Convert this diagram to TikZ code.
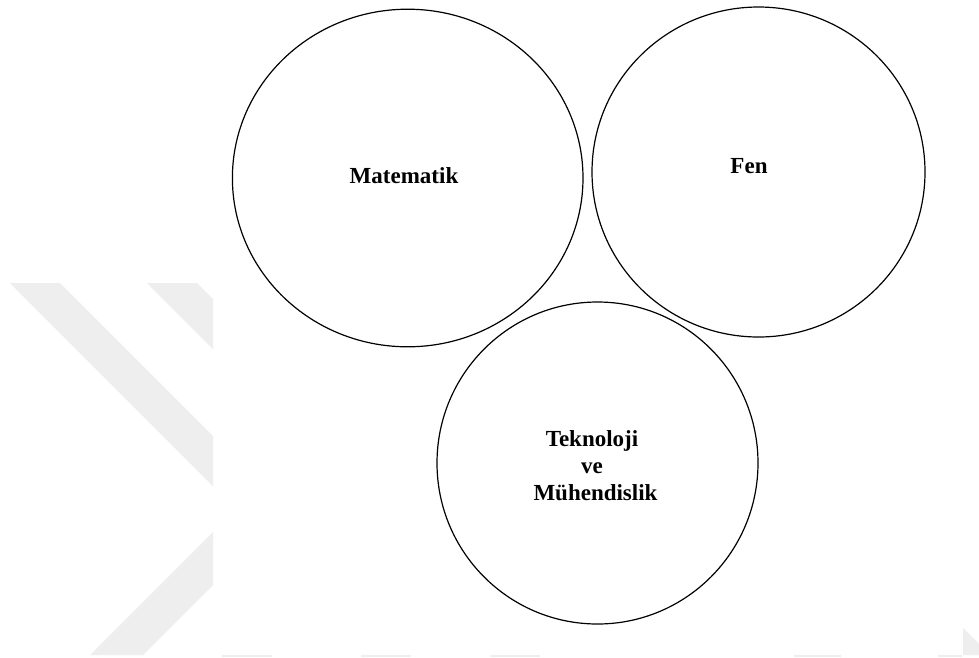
\documentclass[tikz,border=0pt]{standalone}
\usepackage{fontspec}
\setmainfont{Liberation Serif}
\usetikzlibrary{shapes.geometric}
\definecolor{wmgray}{HTML}{EEEEEE}
\tikzset{
  bubble/.style={draw=black, line width=1.2pt, ellipse, inner sep=0pt, outer sep=0pt},
  lbl/.style={font=\bfseries\fontsize{23}{27}\selectfont, inner sep=0pt, anchor=base, text=black},
  wm/.style={fill=wmgray, draw=none}
}
\begin{document}
\begin{tikzpicture}[x=1pt,y=-1pt]
\useasboundingbox (0,0) rectangle (979,657);
\fill[white] (0,0) rectangle (979,657);
% faint watermark remnants
\fill[wm] (10,283) -- (60,283) -- (213,436) -- (213,486) -- cycle;
\fill[wm] (147,283) -- (197,283) -- (213,299) -- (213,349) -- cycle;
\fill[wm] (90,655) -- (143,655) -- (213,585) -- (213,532) -- cycle;
\fill[wm] (963,628) -- (979,644) -- (979,655) -- (963,655) -- cycle;
\fill[wm] (222,655) rectangle (272,657);
\fill[wm] (361,655) rectangle (411,657);
\fill[wm] (491,655) rectangle (540,657);
\fill[wm] (794,655) rectangle (841,657);
\fill[wm] (938,655) rectangle (962,657);
% circles
\node[bubble, minimum width=350.6pt, minimum height=337.6pt] (mat) at (407.7,178) {};
\node[bubble, minimum width=333pt, minimum height=330pt] (fen) at (758.5,172) {};
\node[bubble, minimum width=321pt, minimum height=322pt] (tek) at (597.5,463) {};
% labels
\node[lbl] (matl) at (404,183) {Matematik};
\node[lbl] (fenl) at (749,173) {Fen};
\node[lbl] (tekl1) at (592,446) {Teknoloji};
\node[lbl] (tekl2) at (592,473) {ve};
\node[lbl] (tekl3) at (595.5,500) {Mühendislik};
\end{tikzpicture}
\end{document}
